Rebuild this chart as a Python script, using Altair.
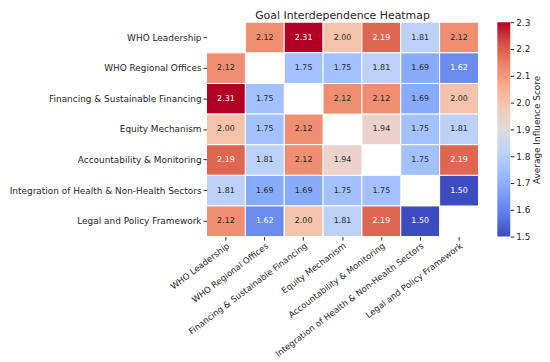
import altair as alt
import pandas as pd

categories = [
    "WHO Leadership",
    "WHO Regional Offices",
    "Financing & Sustainable Financing",
    "Equity Mechanism",
    "Accountability & Monitoring",
    "Integration of Health & Non-Health Sectors",
    "Legal and Policy Framework",
]
scores = [
    [None, 2.12, 2.31, 2.00, 2.19, 1.81, 2.12],
    [2.12, None, 1.75, 1.75, 1.81, 1.69, 1.62],
    [2.31, 1.75, None, 2.12, 2.12, 1.69, 2.00],
    [2.00, 1.75, 2.12, None, 1.94, 1.75, 1.81],
    [2.19, 1.81, 2.12, 1.94, None, 1.75, 2.19],
    [1.81, 1.69, 1.69, 1.75, 1.75, None, 1.50],
    [2.12, 1.62, 2.00, 1.81, 2.19, 1.50, None],
]
colorbar_ticks = [1.5, 1.6, 1.7, 1.8, 1.9, 2.0, 2.1, 2.2, 2.3]
scale_stops = [1.5, 1.58, 1.66, 1.74, 1.82, 1.9, 1.98, 2.06, 2.14, 2.22, 2.3]
gradient_offsets = [0.0, 0.1, 0.2, 0.3, 0.4, 0.5, 0.6, 0.7, 0.8, 0.9, 1.0]
coolwarm = ["#3b4cc0", "#5b7ae5", "#7b9ff9", "#9ebeff", "#c0d4f5", "#dddcdc",
            "#f2cbb7", "#f7ac8e", "#ee8468", "#d65244", "#b40426"]

rows = []
for i, r in enumerate(categories):
    for j, c in enumerate(categories):
        v = scores[i][j]
        if v is not None:
            rows.append({"row": r, "col": c, "value": v})
df = pd.DataFrame(rows)

FONT = "DejaVu Sans"
TXT = "#262626"
H = 216

base = alt.Chart(df).encode(
    x=alt.X("col:N", sort=categories, title=None,
            axis=alt.Axis(labelAngle=-37, labelAlign="right", labelBaseline="top",
                          labelLimit=400, domain=False, ticks=True, tickSize=3.5,
                          tickColor=TXT, labelColor=TXT, labelFontSize=8.6,
                          labelFont=FONT, labelPadding=1)),
    y=alt.Y("row:N", sort=categories, title=None,
            axis=alt.Axis(labelLimit=400, domain=False, ticks=True, tickSize=3.5,
                          tickColor=TXT, labelColor=TXT, labelFontSize=9,
                          labelFont=FONT, labelPadding=2)),
)

rect = base.mark_rect(stroke="white", strokeWidth=1).encode(
    color=alt.Color("value:Q", scale=alt.Scale(domain=scale_stops, range=coolwarm),
                    legend=None)
)
text = base.mark_text(fontSize=8, font=FONT).encode(
    text=alt.Text("value:Q", format=".2f"),
    color=alt.condition("datum.value > 2.15 || datum.value < 1.65",
                        alt.value("white"), alt.value(TXT)),
)

heat = alt.layer(rect, text).properties(
    width=274, height=H,
    title=alt.TitleParams("Goal Interdependence Heatmap", fontSize=11, font=FONT,
                          fontWeight="normal", color=TXT, offset=1),
)

grad = alt.Gradient(
    gradient="linear",
    stops=[alt.GradientStop(color=c, offset=o) for c, o in zip(coolwarm, gradient_offsets)],
    x1=0, x2=0, y1=1, y2=0,
)
cb = alt.Chart(pd.DataFrame({"lo": [colorbar_ticks[0]], "hi": [colorbar_ticks[-1]]})).mark_rect(
    color=grad
).encode(
    y=alt.Y("lo:Q", scale=alt.Scale(domain=[1.5, 2.3], nice=False, zero=False),
            axis=alt.Axis(orient="right", values=colorbar_ticks, format=".1f",
                          title="Average Influence Score", titleAngle=270,
                          titleBaseline="top", titlePadding=3,
                          titleFontSize=9, titleFont=FONT, titleFontWeight="normal",
                          titleColor=TXT, labelFontSize=9, labelFont=FONT,
                          labelColor=TXT, domain=False, tickSize=3.5, tickColor=TXT,
                          grid=False, labelPadding=2)),
    y2="hi:Q",
    x=alt.value(0),
    x2=alt.value(13),
).properties(width=13, height=H)

chart = alt.hconcat(heat, cb, spacing=18).properties(
    padding=0, background="white"
).configure_view(stroke=None)

chart.save("out.html", embed_options={"renderer": "svg", "actions": False})
